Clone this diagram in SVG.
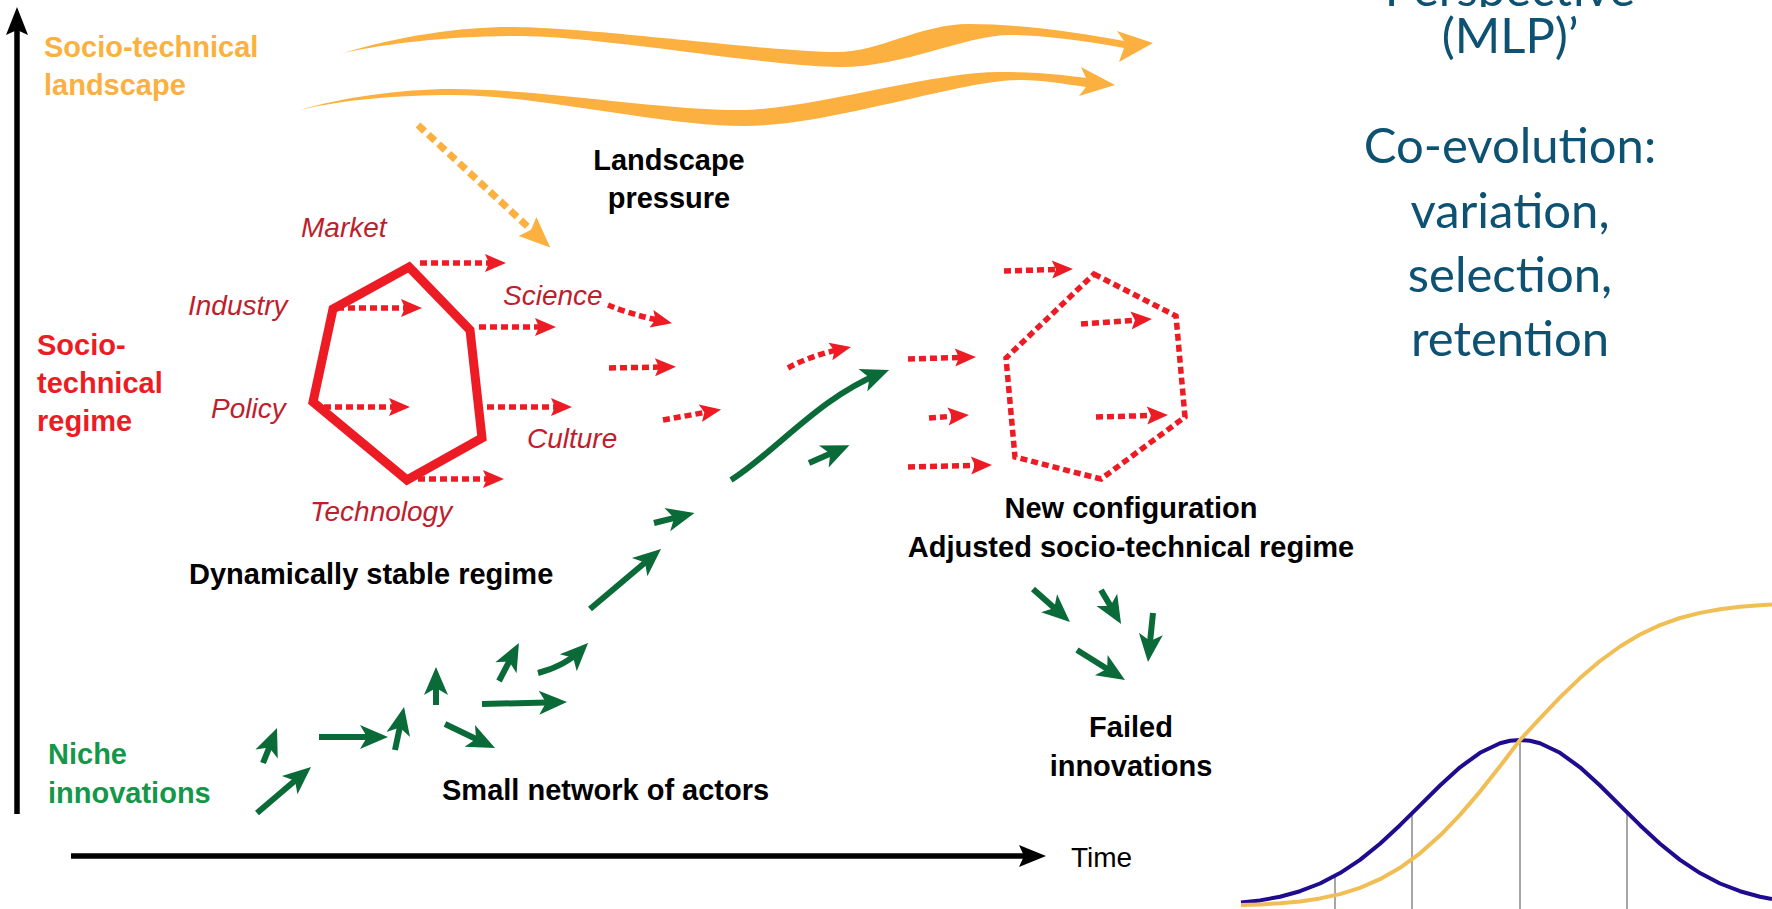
<svg xmlns="http://www.w3.org/2000/svg" width="1772" height="909" viewBox="0 0 1772 909">
  <style>
    .lbl { font-family: "Liberation Sans", Arial, sans-serif; font-weight: bold; font-size: 29px; }
    .dim { font-family: "Liberation Sans", Arial, sans-serif; font-style: italic; font-size: 28px; fill: #BE1E2D; }
    .side { font-family: Lato, "Open Sans", sans-serif; font-size: 49px; fill: #0D5273; text-anchor: middle; }
    .blk { fill: #000; }
    .mid { text-anchor: middle; }
    .green-arrow { fill: none; stroke: #0A6A38; stroke-width: 6; marker-end: url(#gh); }
    .red-arrow { fill: none; stroke: #ED1C24; stroke-width: 5.5; stroke-dasharray: 7 4; marker-end: url(#rh); }
    .axis { stroke: #000; stroke-width: 5.5; fill: none; }
  </style>
  <defs>
    <marker id="gh" markerUnits="userSpaceOnUse" orient="auto" viewBox="-20 -14 32 28" markerWidth="32" markerHeight="28" refX="0" refY="0">
      <path d="M-18,-12 L10,0 L-18,12 L-11,0 Z" fill="#0A6A38"/>
    </marker>
    <marker id="rh" markerUnits="userSpaceOnUse" orient="auto" viewBox="-9 -10 25 20" markerWidth="25" markerHeight="20" refX="0" refY="0">
      <path d="M-7,-9 L14,0 L-7,9 L-3,0 Z" fill="#ED1C24"/>
    </marker>
    <marker id="oh" markerUnits="userSpaceOnUse" orient="auto" viewBox="-19 -14 35 28" markerWidth="35" markerHeight="28" refX="0" refY="0">
      <path d="M-17,-13 L14,0 L-17,13 L-12,0 Z" fill="#FBB040"/>
    </marker>
    <clipPath id="topclip">
      <rect x="1300" y="0" width="472" height="7"/>
    </clipPath>
  </defs>

  <rect width="1772" height="909" fill="#fff"/>

  <!-- axes -->
  <g id="axes">
    <line class="axis" x1="17" y1="30" x2="17" y2="814"/>
    <path d="M17,7 L28,35 L17,30 L6,35 Z" fill="#000"/>
    <line class="axis" x1="71" y1="856" x2="1026" y2="856"/>
    <path d="M1046,856 L1019,845 L1024,856 L1019,867 Z" fill="#000"/>
    <text class="blk" x="1071" y="867" font-family="Liberation Sans, Arial, sans-serif" font-size="28">Time</text>
  </g>

  <!-- landscape level -->
  <g id="landscape">
    <text class="lbl" x="44" y="57" fill="#FBB040">Socio-technical</text>
    <text class="lbl" x="44" y="95" fill="#FBB040">landscape</text>
    <path fill="#FBB040" d="M343,53 C400,36 460,27 510,27 C590,27 770,52 837,52 C880,52 920,24 969,24 C1020,24 1080,33 1124,41 L1117,31 L1153,43 L1119,62 L1124,48 C1080,40 1040,35 1010,35 C965,35 905,67 840,67 C770,67 600,36 520,36 C450,36 390,43 343,53 Z"/>
    <path fill="#FBB040" d="M300,110 C340,98 400,89 452,89 C540,89 660,110 739,110 C810,110 930,72 1000,72 C1040,72 1065,75 1086,78 L1081,67 L1115,85 L1079,96 L1086,87 C1065,84 1045,80 1020,80 C960,80 830,126 745,126 C660,126 540,95 452,95 C400,95 340,100 300,110 Z"/>
    <text class="lbl blk mid" x="669" y="170">Landscape</text>
    <text class="lbl blk mid" x="669" y="208">pressure</text>
  </g>

  <!-- regime level -->
  <g id="regime">
    <text class="lbl" x="37" y="355" fill="#ED1C24">Socio-</text>
    <text class="lbl" x="37" y="393" fill="#ED1C24">technical</text>
    <text class="lbl" x="37" y="431" fill="#ED1C24">regime</text>
  </g>

  <g id="stable-regime">
    <polygon points="409,267 470,330 482,438 407,480 313,402 333,309" fill="none" stroke="#ED1C24" stroke-width="9" stroke-linejoin="miter"/>
    <text class="dim" x="301" y="237">Market</text>
    <text class="dim" x="188" y="315">Industry</text>
    <text class="dim" x="503" y="305">Science</text>
    <text class="dim" x="211" y="418">Policy</text>
    <text class="dim" x="527" y="448">Culture</text>
    <text class="dim" x="310" y="521">Technology</text>
    <text class="lbl blk" x="189" y="584" font-size="29.3">Dynamically stable regime</text>
  </g>

  <g id="new-regime">
    <polygon points="1094,274 1176,316 1185,417 1101,479 1015,457 1006,358" fill="none" stroke="#ED1C24" stroke-width="5.5" stroke-dasharray="7 4"/>
    <text class="lbl blk mid" x="1131" y="518">New configuration</text>
    <text class="lbl blk mid" x="1131" y="557">Adjusted socio-technical regime</text>
  </g>

  <!-- niche level -->
  <g id="niche">
    <text class="lbl" x="48" y="764" fill="#13984A">Niche</text>
    <text class="lbl" x="48" y="803" fill="#13984A">innovations</text>
    <text class="lbl blk" x="442" y="800">Small network of actors</text>
  </g>

  <g id="failed">
    <text class="lbl blk mid" x="1131" y="737">Failed</text>
    <text class="lbl blk mid" x="1131" y="776">innovations</text>
  </g>

  <!-- connectors -->
  <g id="connectors">
    <!-- landscape pressure -->
    <line x1="418" y1="125" x2="540" y2="238" stroke="#FBB040" stroke-width="7" stroke-dasharray="9 5" marker-end="url(#oh)"/>

    <!-- regime dynamics -->
    <path class="red-arrow" d="M420,263 L492,263"/>
    <path class="red-arrow" d="M337,308 L408,308"/>
    <path class="red-arrow" d="M479,327 L542,327"/>
    <path class="red-arrow" d="M324,407 L396,407"/>
    <path class="red-arrow" d="M487,407 L558,407"/>
    <path class="red-arrow" d="M418,479 L490,479"/>
    <path class="red-arrow" d="M608,305 Q630,314 658.3,320.3"/>
    <path class="red-arrow" d="M609,368 L662,367"/>
    <path class="red-arrow" d="M663,420 Q685,416 707.3,412"/>
    <path class="red-arrow" d="M788,368 Q810,356 837.3,350"/>
    <path class="red-arrow" d="M908,359 L962,357.4"/>
    <path class="red-arrow" d="M929,418 L955,416"/>
    <path class="red-arrow" d="M908,467 L978,465.3"/>
    <path class="red-arrow" d="M1004,271 L1059,269.4"/>
    <path class="red-arrow" d="M1081,324 L1138,320"/>
    <path class="red-arrow" d="M1096,417 L1154,415.4"/>

    <!-- niche innovations -->
    <path class="green-arrow" d="M257,813 L303.4,773.5"/>
    <path class="green-arrow" d="M263,763 L273.3,737.3"/>
    <path class="green-arrow" d="M319,737 L378,737"/>
    <path class="green-arrow" d="M395,750 L402,716.8"/>
    <path class="green-arrow" d="M436,705 L436,677"/>
    <path class="green-arrow" d="M445,724 L486,743.7"/>
    <path class="green-arrow" d="M482,704 L557,702.2"/>
    <path class="green-arrow" d="M499,681 L514.3,651.8"/>
    <path class="green-arrow" d="M538,673 Q565,666 581,650"/>
    <path class="green-arrow" d="M590,609 L653.4,555.5"/>
    <path class="green-arrow" d="M654,523 L684.8,515.4"/>
    <path class="green-arrow" d="M809,463 L840.3,449.2"/>
    <path class="green-arrow" stroke-width="7" d="M731,480 C773.5,453.5 820,397 879.7,373.7"/>

    <!-- failed innovations -->
    <path class="green-arrow" d="M1033,589 L1062.5,615.3"/>
    <path class="green-arrow" d="M1101,590 L1116,615.4"/>
    <path class="green-arrow" d="M1153,613 L1149,652"/>
    <path class="green-arrow" d="M1077,650 L1116.5,674.7"/>
  </g>

  <!-- side text -->
  <g id="side-text">
    <text class="side" x="1510" y="6" clip-path="url(#topclip)">Perspective</text>
    <text class="side" x="1510" y="53">(MLP)’</text>
    <text class="side" x="1510" y="163">Co-evolution:</text>
    <text class="side" x="1510" y="228">variation,</text>
    <text class="side" x="1510" y="292">selection,</text>
    <text class="side" x="1510" y="356">retention</text>
  </g>

  <!-- diffusion curves -->
  <g id="diffusion">
    <g stroke="#8A8A8A" stroke-width="1.5">
      <line x1="1335" y1="876" x2="1335" y2="909"/>
      <line x1="1412" y1="813" x2="1412" y2="909"/>
      <line x1="1520" y1="742" x2="1520" y2="909"/>
      <line x1="1627" y1="812" x2="1627" y2="909"/>
    </g>
    <polyline fill="none" stroke="#1E0B8E" stroke-width="4" stroke-linejoin="round" points="1241,902.6 1260,900.4 1280,896.7 1300,891.2 1320,883.5 1340,873.1 1360,859.9 1380,843.7 1400,825.2 1420,805.3 1440,785.5 1460,767.3 1480,752.8 1500,743.3 1510,740.8 1520,740 1530,740.8 1540,743.3 1560,752.8 1580,767.3 1600,785.5 1620,805.3 1640,825.2 1660,843.7 1680,859.9 1700,873.1 1720,883.5 1740,891.2 1760,896.7 1772,899.1"/>
    <polyline fill="none" stroke="#F0BE55" stroke-width="4" stroke-linejoin="round" points="1241,905.1 1260,904.4 1280,903.3 1300,901.4 1320,898.4 1340,894.1 1360,887.8 1380,879.2 1400,867.8 1420,853.3 1440,835.6 1460,814.9 1480,791.6 1500,766.3 1520,740 1540,718.3 1560,697.4 1580,678.1 1600,661 1620,646.5 1640,634.5 1660,625.1 1680,618 1700,612.9 1720,609.2 1740,606.8 1760,605.2 1772,604.6"/>
  </g>
</svg>
